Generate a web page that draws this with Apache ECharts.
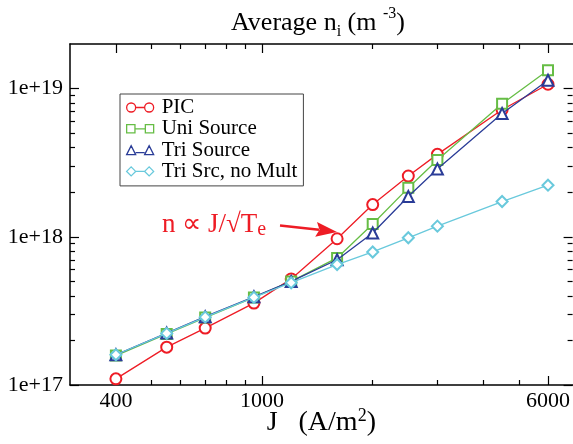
<!DOCTYPE html>
<html><head><meta charset="utf-8">
<script src="https://cdn.jsdelivr.net/npm/echarts@6/dist/echarts.min.js"></script>
<style>html,body{margin:0;padding:0;background:#fff}#c{width:573px;height:444px}</style>
</head><body><div id="c"></div>
<script>
// ---- data ----
const J = [400, 550, 700, 950, 1200, 1600, 2000, 2500, 3000, 4500, 6000];
const pic = [1.1e17, 1.8e17, 2.42e17, 3.57e17, 5.2e17, 9.7e17, 1.65e18, 2.57e18, 3.6e18, 7.2e18, 1.07e19];
const uniSource = [1.58e17, 2.21e17, 2.85e17, 3.9e17, 5.0e17, 7.2e17, 1.22e18, 2.14e18, 3.3e18, 7.9e18, 1.33e19];
const triSource = [1.6e17, 2.24e17, 2.89e17, 3.94e17, 5.0e17, 7.0e17, 1.06e18, 1.87e18, 2.87e18, 6.8e18, 1.14e19];
const triNoMult = [1.6e17, 2.23e17, 2.87e17, 3.9e17, 4.9e17, 6.5e17, 7.9e17, 9.85e17, 1.18e18, 1.73e18, 2.23e18];
const seriesNames = ['PIC', 'Uni Source', 'Tri Source', 'Tri Src, no Mult'];
const xMajorTicks = [400, 1000, 6000];
const xMinorTicks = [500, 600, 700, 800, 900, 2000, 3000, 4000, 5000];
const yMajorTicks = [1e17, 1e18, 1e19];
const yMinorTicks = [2e17, 3e17, 4e17, 5e17, 6e17, 7e17, 8e17, 9e17, 2e18, 3e18, 4e18, 5e18, 6e18, 7e18, 8e18, 9e18];
const xRange = [300, 7000];
const yRange = [1e17, 2e19];

// ---- styling ----
const FONT = 'Liberation Serif';
const colors = ['#ee1c25', '#66bd45', '#2a3c97', '#69c9dc'];
const symbols = ['emptyCircle', 'emptyRect', 'emptyTriangle', 'emptyDiamond'];
const symbolSizes = [11, 10, 11, 11];
const icons = [
  'path://M0,4.5A4.5,4.5 0 1,1 9,4.5A4.5,4.5 0 1,1 0,4.5ZM9,4.5L18,4.5M18,4.5A4.5,4.5 0 1,1 27,4.5A4.5,4.5 0 1,1 18,4.5Z',
  'path://M0.5,0.5L8.5,0.5L8.5,8.5L0.5,8.5ZM8.5,4.5L18.5,4.5M18.5,0.5L26.5,0.5L26.5,8.5L18.5,8.5Z',
  'path://M0,9L4.5,0L9,9ZM9,7L18,7M18,9L22.5,0L27,9Z',
  'path://M0,4.5L4.5,0L9,4.5L4.5,9ZM9,4.5L18,4.5M18,4.5L22.5,0L27,4.5L22.5,9Z'
];
const L = Math.log10;

function auxX(pos, ticks, len, showLabel, showLine) {
  return {
    type: 'value', gridIndex: 0, position: pos, min: L(xRange[0]), max: L(xRange[1]),
    axisLine: {show: showLine, onZero: false, lineStyle: {color: '#000', width: 1.5}},
    axisTick: {show: true, inside: true, length: len, customValues: ticks.map(L), lineStyle: {color: '#000', width: 1.2}},
    axisLabel: {show: showLabel, customValues: ticks.map(L), margin: 5,
      formatter: v => String(Math.round(Math.pow(10, v))),
      fontFamily: FONT, fontSize: 22, color: '#000'},
    splitLine: {show: false}
  };
}
function auxY(pos, ticks, len, showLabel, showLine) {
  return {
    type: 'value', gridIndex: 0, position: pos, min: L(yRange[0]), max: L(yRange[1]),
    axisLine: {show: showLine, onZero: false, lineStyle: {color: '#000', width: 1.5}},
    axisTick: {show: true, inside: true, length: len, customValues: ticks.map(L), lineStyle: {color: '#000', width: 1.2}},
    axisLabel: {show: showLabel, customValues: ticks.map(L), margin: 7,
      formatter: v => '1e+' + Math.round(v),
      fontFamily: FONT, fontSize: 22, color: '#000'},
    splitLine: {show: false}
  };
}

const dataSets = [pic, uniSource, triSource, triNoMult];
const chart = echarts.init(document.getElementById('c'), null, {renderer: 'canvas'});
chart.setOption({
  animation: false,
  backgroundColor: '#fff',
  title: {
    text: 'Average n{s|i} (m {p|-3})',
    left: 226, top: 1,
    textStyle: {
      fontFamily: FONT, fontSize: 26, fontWeight: 'normal', color: '#000', lineHeight: 34,
      rich: {
        s: {fontFamily: FONT, fontSize: 16, lineHeight: 18, verticalAlign: 'bottom', color: '#000'},
        p: {fontFamily: FONT, fontSize: 16, lineHeight: 27, verticalAlign: 'top', color: '#000'}
      }
    }
  },
  grid: {left: 70, right: -1, top: 44, bottom: 49, containLabel: false},
  xAxis: [
    {
      type: 'log', logBase: 10, min: xRange[0], max: xRange[1], position: 'bottom',
      axisLine: {show: true, onZero: false, lineStyle: {color: '#000', width: 1.5}},
      axisTick: {show: false}, axisLabel: {show: false}, splitLine: {show: false}, minorTick: {show: false},
      name: 'J   (A/m{p|2})', nameLocation: 'middle', nameGap: 22,
      nameTextStyle: {fontFamily: FONT, fontSize: 28, color: '#000', lineHeight: 32,
        rich: {p: {fontFamily: FONT, fontSize: 18, lineHeight: 26, verticalAlign: 'top', color: '#000'}}}
    },
    auxX('bottom', xMajorTicks, 9, true, false),
    auxX('bottom', xMinorTicks, 5, false, false),
    auxX('top', xMajorTicks, 9, false, true),
    auxX('top', xMinorTicks, 5, false, false)
  ],
  yAxis: [
    {
      type: 'log', logBase: 10, min: yRange[0], max: yRange[1], position: 'left',
      axisLine: {show: true, onZero: false, lineStyle: {color: '#000', width: 1.5}},
      axisTick: {show: false}, axisLabel: {show: false}, splitLine: {show: false}, minorTick: {show: false}
    },
    auxY('left', yMajorTicks, 9, true, false),
    auxY('left', yMinorTicks, 5, false, false),
    auxY('right', yMajorTicks, 9, false, false),
    auxY('right', yMinorTicks, 5, false, false)
  ],
  legend: {
    orient: 'vertical', left: 120, top: 94,
    padding: [3, 6, 4, 6],
    borderColor: '#444', borderWidth: 1, backgroundColor: '#fff',
    itemWidth: 27, itemHeight: 9, itemGap: 0.3,
    selectedMode: false,
    textStyle: {fontFamily: FONT, fontSize: 21, color: '#000', lineHeight: 20, padding: [0, 0, 0, 3]},
    data: seriesNames.map((n, i) => ({
      name: n, icon: icons[i],
      itemStyle: {color: 'rgba(0,0,0,0)', borderColor: colors[i], borderWidth: 1.3}
    }))
  },
  series: seriesNames.map((n, i) => ({
    name: n, type: 'line', xAxisIndex: 0, yAxisIndex: 0,
    data: J.map((x, k) => [x, dataSets[i][k]]),
    symbol: symbols[i], symbolSize: symbolSizes[i],
    lineStyle: {color: colors[i], width: 1.3},
    itemStyle: {color: colors[i], borderWidth: 1.3},
    z: 2 + i
  })),
  graphic: [
    {
      type: 'text', x: 162, y: 225, z: 100,
      style: {
        text: 'n ∝ J/√T{e|e}',
        fill: '#ee1c25', fontFamily: FONT, fontSize: 27,
        lineHeight: 30, verticalAlign: 'middle', align: 'left',
        rich: {e: {fontFamily: FONT, fontSize: 20, lineHeight: 20, verticalAlign: 'bottom', fill: '#ee1c25'}}
      }
    },
    {
      type: 'line', z: 100,
      shape: {x1: 280, y1: 225.5, x2: 319, y2: 229.8},
      style: {stroke: '#ee1c25', lineWidth: 2.5}
    },
    {
      type: 'polygon', z: 100,
      shape: {points: [[337, 232], [317, 222], [319.5, 229.8], [315.2, 236.8]]},
      style: {fill: '#ee1c25'}
    }
  ]
});
</script>
</body></html>
